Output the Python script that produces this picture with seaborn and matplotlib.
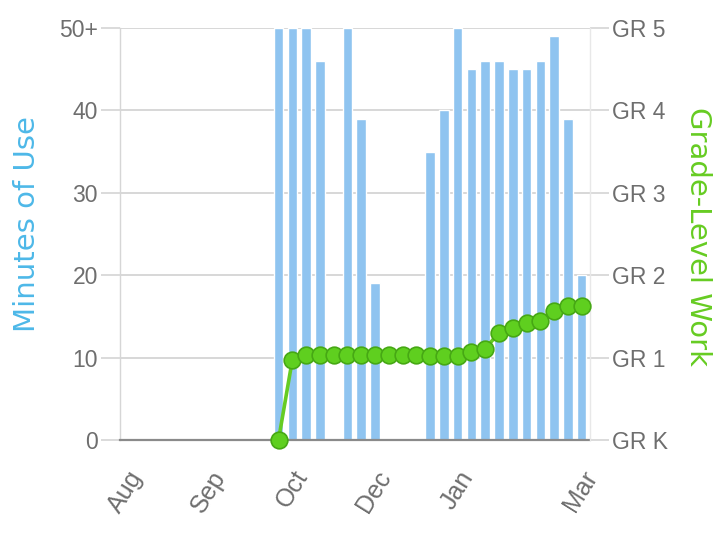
import numpy as np
import pandas as pd
import matplotlib
matplotlib.use("Agg")
import matplotlib.pyplot as plt
import seaborn as sns

# ---- data ----
weeks = list(range(34))
minutes = [0, 0, 0, 0, 0, 0, 0, 0, 0, 0, 0,
           50, 50, 50, 46, 0, 50, 39, 19, 0, 0, 0,
           35, 40, 50, 45, 46, 46, 45, 45, 46, 49, 39, 20]
grade_weeks = list(range(11, 34))
grade_level = [0.0, 0.97,
               1.03, 1.03, 1.03, 1.03, 1.03, 1.03, 1.03, 1.03, 1.03,
               1.02, 1.02, 1.02,
               1.07, 1.11, 1.30, 1.36, 1.42, 1.44, 1.56, 1.63, 1.63]
month_ticks = [0, 6, 12, 18, 24, 33]
month_labels = ["Aug", "Sep", "Oct", "Dec", "Jan", "Mar"]
minute_ticks = [0, 10, 20, 30, 40, 50]
minute_labels = ["0", "10", "20", "30", "40", "50+"]
grade_ticks = [0, 1, 2, 3, 4, 5]
grade_labels = ["GR K", "GR 1", "GR 2", "GR 3", "GR 4", "GR 5"]

df_bars = pd.DataFrame({"week": weeks, "minutes": minutes})
df_line = pd.DataFrame({"week": grade_weeks, "grade": grade_level})

sns.set_style("white")
plt.rcParams["font.family"] = ["Liberation Sans", "DejaVu Sans"]

W, H = 716, 534
fig = plt.figure(figsize=(W / 100, H / 100), dpi=100)
ax = fig.add_axes([120 / W, 94 / H, 470 / W, 412 / H])

BAR = "#8fc4f0"
GREEN = "#5fcf1f"
TICKC = "#6e6e6e"
GRID = "#d4d4d4"

sns.barplot(data=df_bars, x="week", y="minutes", order=weeks, color=BAR,
            saturation=1, width=0.69, ax=ax, zorder=2)
ax.set_xlim(-0.5, 33.6)
ax.set_ylim(0, 50)
ax.set_axisbelow(True)
ax.yaxis.grid(True, color=GRID, lw=1.3)
ax.xaxis.grid(False)

for s in ["top", "right"]:
    ax.spines[s].set_visible(False)
ax.spines["left"].set_color("#d6d6d6")
ax.spines["left"].set_linewidth(1.0)
ax.spines["bottom"].set_color("#8a8a8a")
ax.spines["bottom"].set_linewidth(1.6)
ax.spines["bottom"].set_zorder(3)

ax.set_yticks(minute_ticks)
ax.set_yticklabels(minute_labels)
ax.tick_params(axis="y", length=14, width=1.2, color=GRID, pad=2,
               labelsize=16.5, labelcolor=TICKC, left=True)
ax.set_xticks(month_ticks)
ax.set_xticklabels(month_labels)
ax.tick_params(axis="x", length=0, pad=19, labelsize=18, labelcolor=TICKC)
for lab in ax.get_xticklabels():
    lab.set_rotation(58)
    lab.set_ha("right")
    lab.set_va("top")
    lab.set_rotation_mode("anchor")

ax.set_xlabel("")
ax.set_ylabel("Minutes of Use", color="#4db8e8", fontsize=21,
              family=["DejaVu Sans"])
ax.yaxis.set_label_coords((27 - 120) / 470, 0.524)
ax.yaxis.label.set_va("center")

ax2 = ax.twinx()
sns.lineplot(data=df_line, x="week", y="grade", ax=ax2, color="#66cc22",
             lw=2.6, marker="o", markersize=12, markerfacecolor=GREEN,
             markeredgecolor="#46a814", markeredgewidth=1.2, clip_on=False,
             zorder=5)
ax2.set_ylim(0, 5)
ax2.set_xlim(-0.5, 33.6)
ax2.set_yticks(grade_ticks)
ax2.set_yticklabels(grade_labels)
ax2.tick_params(axis="y", length=14, width=1.2, color=GRID, pad=2,
                labelsize=16.5, labelcolor=TICKC, right=True)
for s in ["top", "left", "bottom"]:
    ax2.spines[s].set_visible(False)
ax2.spines["right"].set_color("#e8e8e8")
ax2.spines["right"].set_linewidth(1.0)
ax2.set_ylabel("Grade-Level Work", color="#66cc22", fontsize=21, rotation=-90,
               family=["DejaVu Sans"])
ax2.yaxis.set_label_coords((698 - 120) / 470, 0.494)
ax2.yaxis.label.set_va("center")
ax2.yaxis.label.set_ha("center")
ax2.set_xlabel("")

fig.savefig("out.png", dpi=100)
